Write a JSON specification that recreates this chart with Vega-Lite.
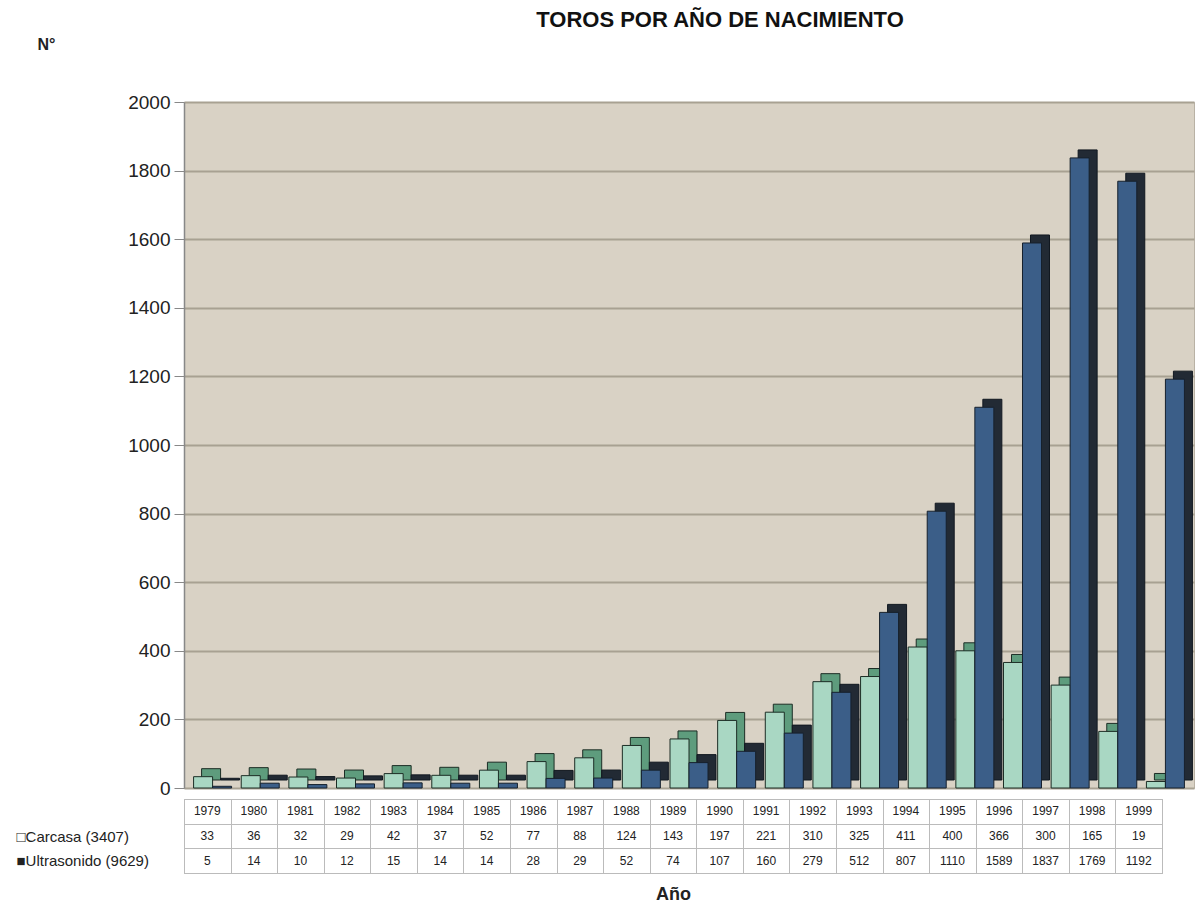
{
  "$schema": "https://vega.github.io/schema/vega-lite/v6.json",
  "padding": {"left": 15, "top": 8, "right": 0, "bottom": 0},
  "background": "white",
  "config": {
    "font": "Liberation Sans",
    "view": {"stroke": null},
    "axis": {"labelColor": "#222", "titleColor": "#222"}
  },
  "datasets": {
    "toros": [
      {"year": "1979", "serie": "Carcasa", "label": "Carcasa (3407)", "value": 33},
      {"year": "1980", "serie": "Carcasa", "label": "Carcasa (3407)", "value": 36},
      {"year": "1981", "serie": "Carcasa", "label": "Carcasa (3407)", "value": 32},
      {"year": "1982", "serie": "Carcasa", "label": "Carcasa (3407)", "value": 29},
      {"year": "1983", "serie": "Carcasa", "label": "Carcasa (3407)", "value": 42},
      {"year": "1984", "serie": "Carcasa", "label": "Carcasa (3407)", "value": 37},
      {"year": "1985", "serie": "Carcasa", "label": "Carcasa (3407)", "value": 52},
      {"year": "1986", "serie": "Carcasa", "label": "Carcasa (3407)", "value": 77},
      {"year": "1987", "serie": "Carcasa", "label": "Carcasa (3407)", "value": 88},
      {"year": "1988", "serie": "Carcasa", "label": "Carcasa (3407)", "value": 124},
      {"year": "1989", "serie": "Carcasa", "label": "Carcasa (3407)", "value": 143},
      {"year": "1990", "serie": "Carcasa", "label": "Carcasa (3407)", "value": 197},
      {"year": "1991", "serie": "Carcasa", "label": "Carcasa (3407)", "value": 221},
      {"year": "1992", "serie": "Carcasa", "label": "Carcasa (3407)", "value": 310},
      {"year": "1993", "serie": "Carcasa", "label": "Carcasa (3407)", "value": 325},
      {"year": "1994", "serie": "Carcasa", "label": "Carcasa (3407)", "value": 411},
      {"year": "1995", "serie": "Carcasa", "label": "Carcasa (3407)", "value": 400},
      {"year": "1996", "serie": "Carcasa", "label": "Carcasa (3407)", "value": 366},
      {"year": "1997", "serie": "Carcasa", "label": "Carcasa (3407)", "value": 300},
      {"year": "1998", "serie": "Carcasa", "label": "Carcasa (3407)", "value": 165},
      {"year": "1999", "serie": "Carcasa", "label": "Carcasa (3407)", "value": 19},
      {"year": "1979", "serie": "Ultrasonido", "label": "Ultrasonido (9629)", "value": 5},
      {"year": "1980", "serie": "Ultrasonido", "label": "Ultrasonido (9629)", "value": 14},
      {"year": "1981", "serie": "Ultrasonido", "label": "Ultrasonido (9629)", "value": 10},
      {"year": "1982", "serie": "Ultrasonido", "label": "Ultrasonido (9629)", "value": 12},
      {"year": "1983", "serie": "Ultrasonido", "label": "Ultrasonido (9629)", "value": 15},
      {"year": "1984", "serie": "Ultrasonido", "label": "Ultrasonido (9629)", "value": 14},
      {"year": "1985", "serie": "Ultrasonido", "label": "Ultrasonido (9629)", "value": 14},
      {"year": "1986", "serie": "Ultrasonido", "label": "Ultrasonido (9629)", "value": 28},
      {"year": "1987", "serie": "Ultrasonido", "label": "Ultrasonido (9629)", "value": 29},
      {"year": "1988", "serie": "Ultrasonido", "label": "Ultrasonido (9629)", "value": 52},
      {"year": "1989", "serie": "Ultrasonido", "label": "Ultrasonido (9629)", "value": 74},
      {"year": "1990", "serie": "Ultrasonido", "label": "Ultrasonido (9629)", "value": 107},
      {"year": "1991", "serie": "Ultrasonido", "label": "Ultrasonido (9629)", "value": 160},
      {"year": "1992", "serie": "Ultrasonido", "label": "Ultrasonido (9629)", "value": 279},
      {"year": "1993", "serie": "Ultrasonido", "label": "Ultrasonido (9629)", "value": 512},
      {"year": "1994", "serie": "Ultrasonido", "label": "Ultrasonido (9629)", "value": 807},
      {"year": "1995", "serie": "Ultrasonido", "label": "Ultrasonido (9629)", "value": 1110},
      {"year": "1996", "serie": "Ultrasonido", "label": "Ultrasonido (9629)", "value": 1589},
      {"year": "1997", "serie": "Ultrasonido", "label": "Ultrasonido (9629)", "value": 1837},
      {"year": "1998", "serie": "Ultrasonido", "label": "Ultrasonido (9629)", "value": 1769},
      {"year": "1999", "serie": "Ultrasonido", "label": "Ultrasonido (9629)", "value": 1192}
    ]
  },
  "vconcat": [
    {
      "width": 1010,
      "height": 686,
      "data": {"name": "toros"},
      "view": {"fill": "#d9d2c5", "stroke": "#b9b2a5"},
      "title": {"text": "TOROS POR AÑO DE NACIMIENTO", "fontSize": 22, "fontWeight": "bold", "color": "#111", "anchor": "middle", "frame": "group", "dx": 31, "offset": 4},
      "encoding": {
        "x": {"field": "year", "type": "ordinal", "scale": {"paddingInner": 0, "paddingOuter": 0.1}, "axis": null},
        "y": {
          "field": "value", "type": "quantitative",
          "scale": {"domain": [0, 2000], "nice": false},
          "axis": {
            "values": [0, 200, 400, 600, 800, 1000, 1200, 1400, 1600, 1800, 2000],
            "format": "d",
            "labelFontSize": 19, "labelPadding": 4, "tickSize": 10, "tickColor": "#888", "domainColor": "#888", "domainWidth": 1.5,
            "gridColor": "#a8a192", "gridWidth": 2,
            "title": "N°", "titleAngle": 0, "titleFontSize": 16, "titleFontWeight": "bold",
            "titleAlign": "center", "titleBaseline": "middle", "titleX": -138, "titleY": -58
          }
        }
      },
      "layer": [
        {
          "transform": [{"filter": "datum.serie == 'Carcasa'"}],
          "mark": {"type": "bar", "width": 19, "xOffset": -1.5, "yOffset": -8, "color": "#5e9c7d", "stroke": "#1c2d25", "strokeWidth": 1}
        },
        {
          "transform": [{"filter": "datum.serie == 'Carcasa'"}],
          "mark": {"type": "bar", "width": 19, "xOffset": -9.5, "color": "#a9d7c3", "stroke": "#1c2d25", "strokeWidth": 1}
        },
        {
          "transform": [{"filter": "datum.serie == 'Ultrasonido'"}],
          "mark": {"type": "bar", "width": 19, "xOffset": 17.5, "yOffset": -8, "color": "#222a34", "stroke": "#111820", "strokeWidth": 1}
        },
        {
          "transform": [{"filter": "datum.serie == 'Ultrasonido'"}],
          "mark": {"type": "bar", "width": 19, "xOffset": 9.5, "color": "#3b5e88", "stroke": "#16202c", "strokeWidth": 1}
        }
      ]
    },
    {
      "width": 978,
      "height": 74,
      "data": {"name": "toros"},
      "view": {"fill": "white", "stroke": "#aaa"},
      "encoding": {
        "x": {
          "field": "year", "type": "ordinal",
          "scale": {"paddingInner": 0, "paddingOuter": 0},
          "axis": {"labels": false, "ticks": false, "domain": false, "grid": true, "tickBand": "extent", "gridColor": "#bbb",
            "title": "Año", "titleFontSize": 18, "titleFontWeight": "bold", "titlePadding": 12}
        }
      },
      "layer": [
        {
          "transform": [{"filter": "datum.serie == 'Carcasa'"}],
          "mark": {"type": "text", "fontSize": 12, "color": "#222"},
          "encoding": {
            "y": {"datum": "hdr", "type": "ordinal",
              "scale": {"type": "band", "domain": ["hdr", "Carcasa (3407)", "Ultrasonido (9629)"], "paddingInner": 0, "paddingOuter": 0},
              "axis": {"title": null, "ticks": false, "domain": false, "grid": true, "tickBand": "extent", "gridColor": "#bbb",
                "labelFontSize": 15, "labelPadding": 168, "labelAlign": "left",
                "labelExpr": "datum.value == 'Carcasa (3407)' ? '□Carcasa (3407)' : (datum.value == 'Ultrasonido (9629)' ? '■Ultrasonido (9629)' : '')"}},
            "text": {"field": "year"}
          }
        },
        {
          "mark": {"type": "text", "fontSize": 12, "color": "#222"},
          "encoding": {
            "y": {"field": "label", "type": "ordinal"},
            "text": {"field": "value"}
          }
        }
      ]
    }
  ],
  "spacing": -13
}
